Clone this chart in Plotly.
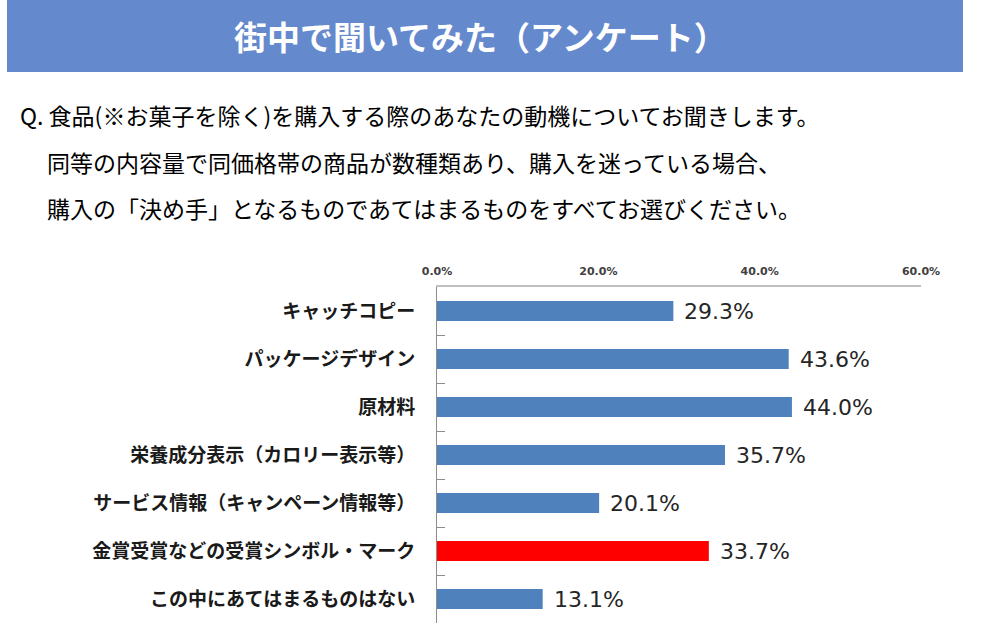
import plotly.graph_objects as go

# --- data ---
categories = [
    "キャッチコピー",
    "パッケージデザイン",
    "原材料",
    "栄養成分表示（カロリー表示等）",
    "サービス情報（キャンペーン情報等）",
    "金賞受賞などの受賞シンボル・マーク",
    "この中にあてはまるものはない",
]
values = [29.3, 43.6, 44.0, 35.7, 20.1, 33.7, 13.1]
highlight = "金賞受賞などの受賞シンボル・マーク"
x_ticks = [0, 20, 40, 60]
x_tick_labels = ["0.0%", "20.0%", "40.0%", "60.0%"]

title_text = "街中で聞いてみた（アンケート）"
question_lines = [
    "Q. 食品(※お菓子を除く)を購入する際のあなたの動機についてお聞きします。",
    "同等の内容量で同価格帯の商品が数種類あり、購入を迷っている場合、",
    "購入の「決め手」となるものであてはまるものをすべてお選びください。",
]

W, H = 1004, 626
JP = "Noto Sans CJK JP"
BLUE = "#4F81BD"
RED = "#FF0000"

# plot area in page pixels
PL, PR, PT, PB = 437, 921, 287, 623
PW, PH = PR - PL, PB - PT


def px_x(x):
    return (x - PL) / PW


def px_y(y):
    return 1 - (y - PT) / PH


colors = [RED if c == highlight else BLUE for c in categories]

fig = go.Figure()
fig.add_trace(go.Bar(
    x=values,
    y=categories,
    orientation="h",
    marker=dict(color=colors, line=dict(width=0)),
    hoverinfo="skip",
))

# value labels just right of each bar
for c, v in zip(categories, values):
    fig.add_annotation(
        x=v, y=c, xref="x", yref="y",
        text=f"{v:.1f}%", showarrow=False,
        xanchor="left", xshift=9,
        font=dict(family="DejaVu Sans", size=22, color="#262626"),
    )

# header band
fig.add_shape(type="rect", xref="paper", yref="paper",
              x0=px_x(7), x1=px_x(963), y0=px_y(72), y1=px_y(0),
              fillcolor="#6589CD", line=dict(width=0), layer="below")

fig.add_annotation(
    xref="paper", yref="paper", x=px_x(480), y=px_y(36),
    text=f"<b>{title_text}</b>", showarrow=False, xanchor="center", yanchor="middle",
    font=dict(family=JP, size=33, color="white"),
)

# question text
q_pos = [(18, 115), (45, 162), (45, 208)]
for line, (qx, qy) in zip(question_lines, q_pos):
    fig.add_annotation(
        xref="paper", yref="paper", x=px_x(qx), y=px_y(qy),
        text=line, showarrow=False, xanchor="left", yanchor="middle",
        font=dict(family=JP, size=23, color="#000000"),
    )

fig.update_layout(
    width=W, height=H,
    margin=dict(l=PL, r=W - PR, t=PT, b=H - PB),
    paper_bgcolor="white", plot_bgcolor="white",
    bargap=0.58,
    showlegend=False,
    xaxis=dict(
        range=[0, 60], side="top",
        tickvals=x_ticks, ticktext=x_tick_labels,
        showgrid=False, zeroline=False,
        showline=True, linecolor="#C0C0C0", linewidth=2,
        ticks="", ticklabelstandoff=6,
        tickfont=dict(family="DejaVu Sans", size=11, color="#404040", weight="bold"),
        fixedrange=True,
    ),
    yaxis=dict(
        autorange="reversed",
        showgrid=False, zeroline=False,
        showline=True, linecolor="#8C8C8C", linewidth=1,
        ticks="inside", tickson="boundaries", ticklen=8, tickcolor="#8C8C8C",
        ticklabelstandoff=17,
        tickfont=dict(family=JP, size=19, color="#1a1a1a", weight="bold"),
        fixedrange=True,
    ),
)

# drop the browser's default page margin so the figure sits at (0, 0)
fig.write_html("out.html", config={"displayModeBar": False},
               post_script="document.body.style.margin='0';")
